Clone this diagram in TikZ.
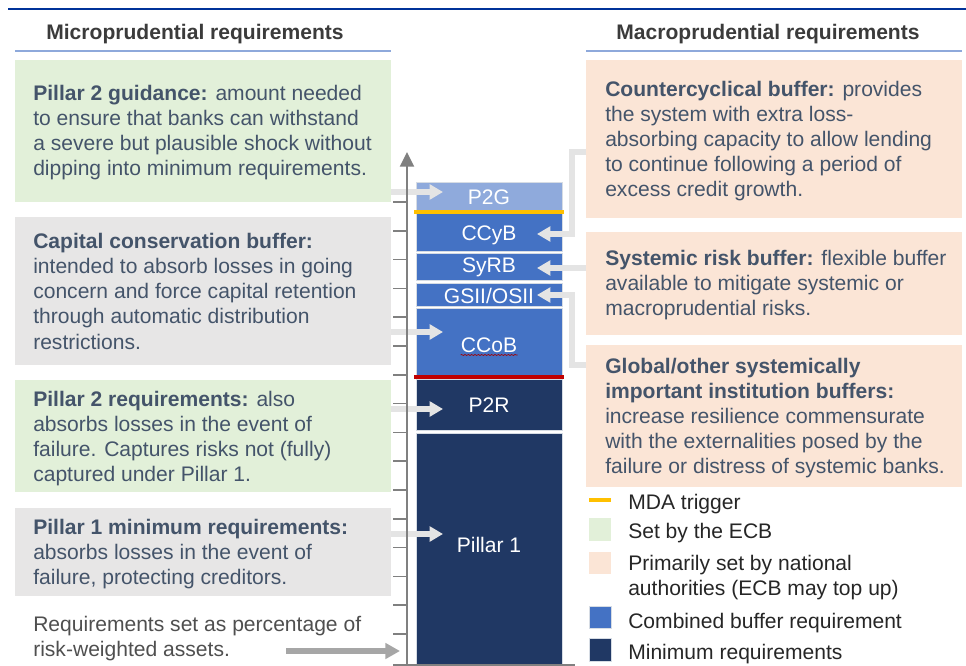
\documentclass[tikz,border=0pt]{standalone}
\usepackage{fontspec}
\setmainfont{Liberation Sans}
\usetikzlibrary{arrows.meta,fit,decorations.pathmorphing}

\definecolor{ecbblue}{HTML}{003299}
\definecolor{rulebl}{HTML}{8EA9DB}
\definecolor{ecbgreen}{HTML}{E2F0D9}
\definecolor{boxgray}{HTML}{E7E6E6}
\definecolor{peach}{HTML}{FBE5D6}
\definecolor{p2gblue}{HTML}{8FAADC}
\definecolor{cbrblue}{HTML}{4472C4}
\definecolor{minblue}{HTML}{203864}
\definecolor{mdayellow}{HTML}{FFC000}
\definecolor{p2rred}{HTML}{C00000}
\definecolor{notetext}{HTML}{44546A}
\definecolor{headgray}{HTML}{3B3B3B}
\definecolor{keytext}{HTML}{262626}
\definecolor{axisgray}{HTML}{808080}
\definecolor{feedgray}{HTML}{E4E4E4}
\definecolor{rwagray}{HTML}{A6A6A6}
\definecolor{segline}{HTML}{D6DCE4}

\newcommand{\bodyfont}{\fontsize{15.8pt}{18.75pt}\selectfont}
\newcommand{\notelines}[1]{\parbox[t]{290pt}{\raggedright #1}}

\begin{document}
\begin{tikzpicture}[x=0.75pt, y=-0.75pt,
  box/.style={inner sep=0pt, outer sep=0pt},
  seg/.style={inner sep=0pt, outer sep=0pt, draw=segline, line width=0.6pt},
  note/.style={anchor=base west, inner sep=0pt, text=notetext, font=\bodyfont},
  head/.style={anchor=base, inner sep=0pt, text=headgray, font=\bodyfont\bfseries},
  key/.style={anchor=base west, inner sep=0pt, text=keytext, font=\bodyfont},
  barlabel/.style={anchor=base, inner sep=0pt, text=white, font=\bodyfont},
  rule/.style={draw=rulebl, line width=1.4pt},
  feed/.style={draw=feedgray, line width=4.5pt, -{Triangle[length=10pt,width=11pt]}},
  rwa/.style={draw=rwagray, line width=4.5pt, -{Triangle[length=11pt,width=11.5pt]}},
  tick/.style={draw=axisgray, line width=1.3pt},
  mda/.style={draw=mdayellow, line width=2.4pt}]
\useasboundingbox (0,0) rectangle (966,666);

% headings
\draw[ecbblue, line width=1.6pt] (8,9) -- (966,9);
\node[head] (micro) at (195,40) {Microprudential requirements};
\node[head] (macro) at (768,40) {Macroprudential requirements};
\draw[rule] (15,51) -- (391,51);
\draw[rule] (586,51) -- (962,51);

% microprudential side
\node[box, fill=ecbgreen, fit={(15,60) (391,202)}] (pgbox) {};
\node[box, fill=boxgray, fit={(15,217) (391,365)}] (ccobbox) {};
\node[box, fill=ecbgreen, fit={(15,380) (391,492)}] (p2rbox) {};
\node[box, fill=boxgray, fit={(15,508) (391,596)}] (p1box) {};
\node[note] (pgtext) at (33,101) {\notelines{\textbf{Pillar 2 guidance:} amount needed\\to ensure that banks can withstand\\a severe but plausible shock without\\dipping into minimum requirements.}};
\node[note] (ccobtext) at (33,249) {\notelines{\textbf{Capital conservation buffer:}\\intended to absorb losses in going\\concern and force capital retention\\through automatic distribution\\restrictions.}};
\node[note] (p2rtext) at (33,406) {\notelines{\textbf{Pillar 2 requirements:} also\\absorbs losses in the event of\\failure. Captures risks not (fully)\\captured under Pillar 1.}};
\node[note] (p1text) at (33,534) {\notelines{\textbf{Pillar 1 minimum requirements:}\\absorbs losses in the event of\\failure, protecting creditors.}};
\node[note, text=headgray!90] (rwatext) at (33,631) {\notelines{Requirements set as percentage of\\risk-weighted assets.}};

% macroprudential side
\node[box, fill=peach, fit={(586,60) (962,218)}] (ccybbox) {};
\node[box, fill=peach, fit={(586,232) (962,335)}] (syrbbox) {};
\node[box, fill=peach, fit={(586,345) (962,487)}] (gsiibox) {};
\node[note] (ccybtext) at (605,97) {\notelines{\textbf{Countercyclical buffer:} provides\\the system with extra loss-\\absorbing capacity to allow lending\\to continue following a period of\\excess credit growth.}};
\node[note] (syrbtext) at (605,266) {\notelines{\textbf{Systemic risk buffer:} flexible buffer\\available to mitigate systemic or\\macroprudential risks.}};
\node[note] (gsiitext) at (605,373) {\notelines{\textbf{Global/other systemically}\\\textbf{important institution buffers:}\\increase resilience commensurate\\with the externalities posed by the\\failure or distress of systemic banks.}};

% capital stack
\node[seg, fill=p2gblue, fit={(416,182) (562,211)}] (p2g) {};
\node[seg, fill=cbrblue, fit={(416,213) (562,251)}] (ccyb) {};
\node[seg, fill=cbrblue, fit={(416,253) (562,280)}] (syrb) {};
\node[seg, fill=cbrblue, fit={(416,283) (562,306)}] (gsii) {};
\node[seg, fill=cbrblue, fit={(416,308) (562,376)}] (ccob) {};
\node[seg, fill=minblue, fit={(416,379) (562,430)}] (p2r) {};
\node[seg, fill=minblue, fit={(416,433) (562,665)}] (pillar1) {};
\draw[mda] (414,212) -- (564,212);
\draw[p2rred, line width=2.6pt] (414,377) -- (564,377);
\node[barlabel] at (489,205) {P2G};
\node[barlabel] at (489,241) {CCyB};
\node[barlabel] at (489,273) {SyRB};
\node[barlabel] at (489,303) {GSII/OSII};
\node[barlabel] (ccoblabel) at (489,352) {CCoB};
\node[barlabel] at (489,412) {P2R};
\node[barlabel] at (489,552) {Pillar 1};
\draw[p2rred!85!black, line width=0.5pt, decorate,
  decoration={snake, amplitude=0.4pt, segment length=2.5pt}]
  (ccoblabel.base west) ++(0,3) -- ++(57,0);

% arrows into the stack
\coordinate (toP2G) at (443,192);
\coordinate (toCCoB) at (443,332);
\coordinate (toP2R) at (443,409);
\coordinate (toP1) at (443,534);
\draw[feed] (pgbox.east |- toP2G) -- (toP2G);
\draw[feed] (ccobbox.east |- toCCoB) -- (toCCoB);
\draw[feed] (p2rbox.east |- toP2R) -- (toP2R);
\draw[feed] (p1box.east |- toP1) -- (toP1);

\coordinate (ccybfrom) at (586,152);
\coordinate (toCCyB) at (537,234);
\coordinate (toSyRB) at (537,268);
\coordinate (gsiifrom) at (586,365);
\coordinate (toGSII) at (537,295);
\draw[feed] (ccybfrom) -- ++(-14,0) |- (toCCyB);
\draw[feed] (syrbbox.west |- toSyRB) -- (toSyRB);
\draw[feed] (gsiifrom) -- ++(-14,0) |- (toGSII);

\coordinate (rwafrom) at (286,651);
\coordinate (rwato) at (400,651);
\draw[rwa] (rwafrom) -- (rwato);

% axis with ticks
\foreach \k in {0,...,15}
  \draw[tick] (393,{202+28.8*\k}) -- (407,{202+28.8*\k});
\draw[tick] (393,665) -- (575,665);
\draw[draw=axisgray, line width=1.5pt, -{Triangle[length=11pt,width=10.5pt]}] (407,666) -- (407,152);

% legend
\draw[mda] (589,500) -- (611,500);
\node[box, fill=ecbgreen, fit={(589,518) (611,541)}] (keyecb) {};
\node[box, fill=peach, fit={(589,552) (611,574)}] (keynca) {};
\node[seg, fill=cbrblue, fit={(589,606) (611,628)}] (keycbr) {};
\node[seg, fill=minblue, fit={(589,638) (611,661)}] (keymin) {};
\node[key] at (628,509) {MDA trigger};
\node[key] at (628,538) {Set by the ECB};
\node[key] at (628,570) {\notelines{Primarily set by national\\authorities (ECB may top up)}};
\node[key] at (628,628) {Combined buffer requirement};
\node[key] at (628,659) {Minimum requirements};
\end{tikzpicture}
\end{document}
